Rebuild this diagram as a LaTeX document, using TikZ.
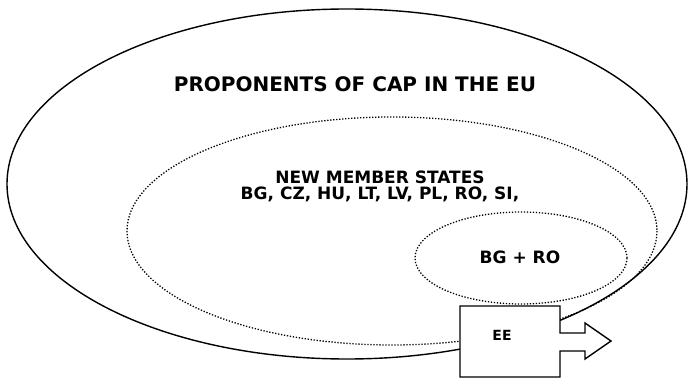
\documentclass[tikz,border=0pt]{standalone}
\usepackage{fontspec}
\setmainfont{DejaVu Sans}
\usepackage{tikz}

\begin{document}
\begin{tikzpicture}[x=1pt,y=-1pt,
  dotline/.style={line width=1.3pt,dash pattern=on 1.3pt off 1.7pt},
  label/.style={font=\bfseries,inner sep=0pt,align=center}]
\useasboundingbox (0,0) rectangle (688,379);
\draw[line width=1.4pt] (347,184) ellipse[x radius=340,y radius=175];
\draw[dotline] (392,231) ellipse[x radius=265,y radius=114];
\draw[dotline] (521,258) ellipse[x radius=106,y radius=46];
\draw[line width=1.4pt,fill=white] (460,306) -- (560,306) -- (560,333) -- (585,333) -- (585,323)
  -- (611,341) -- (585,359) -- (585,351) -- (560,351) -- (560,377) -- (460,377) -- cycle;
\node[label,font=\bfseries\fontsize{20}{24}\selectfont] (cap) at (355,84) {PROPONENTS OF CAP IN THE EU};
\node[label,font=\bfseries\fontsize{17}{16}\selectfont] (nms) at (380,186) {NEW MEMBER STATES\\BG, CZ, HU, LT, LV, PL, RO, SI,};
\node[label,font=\bfseries\fontsize{17}{20}\selectfont] (bgro) at (520,257) {BG + RO};
\node[label,font=\bfseries\fontsize{14}{16}\selectfont] (ee) at (502,335) {EE};
\end{tikzpicture}
\end{document}
